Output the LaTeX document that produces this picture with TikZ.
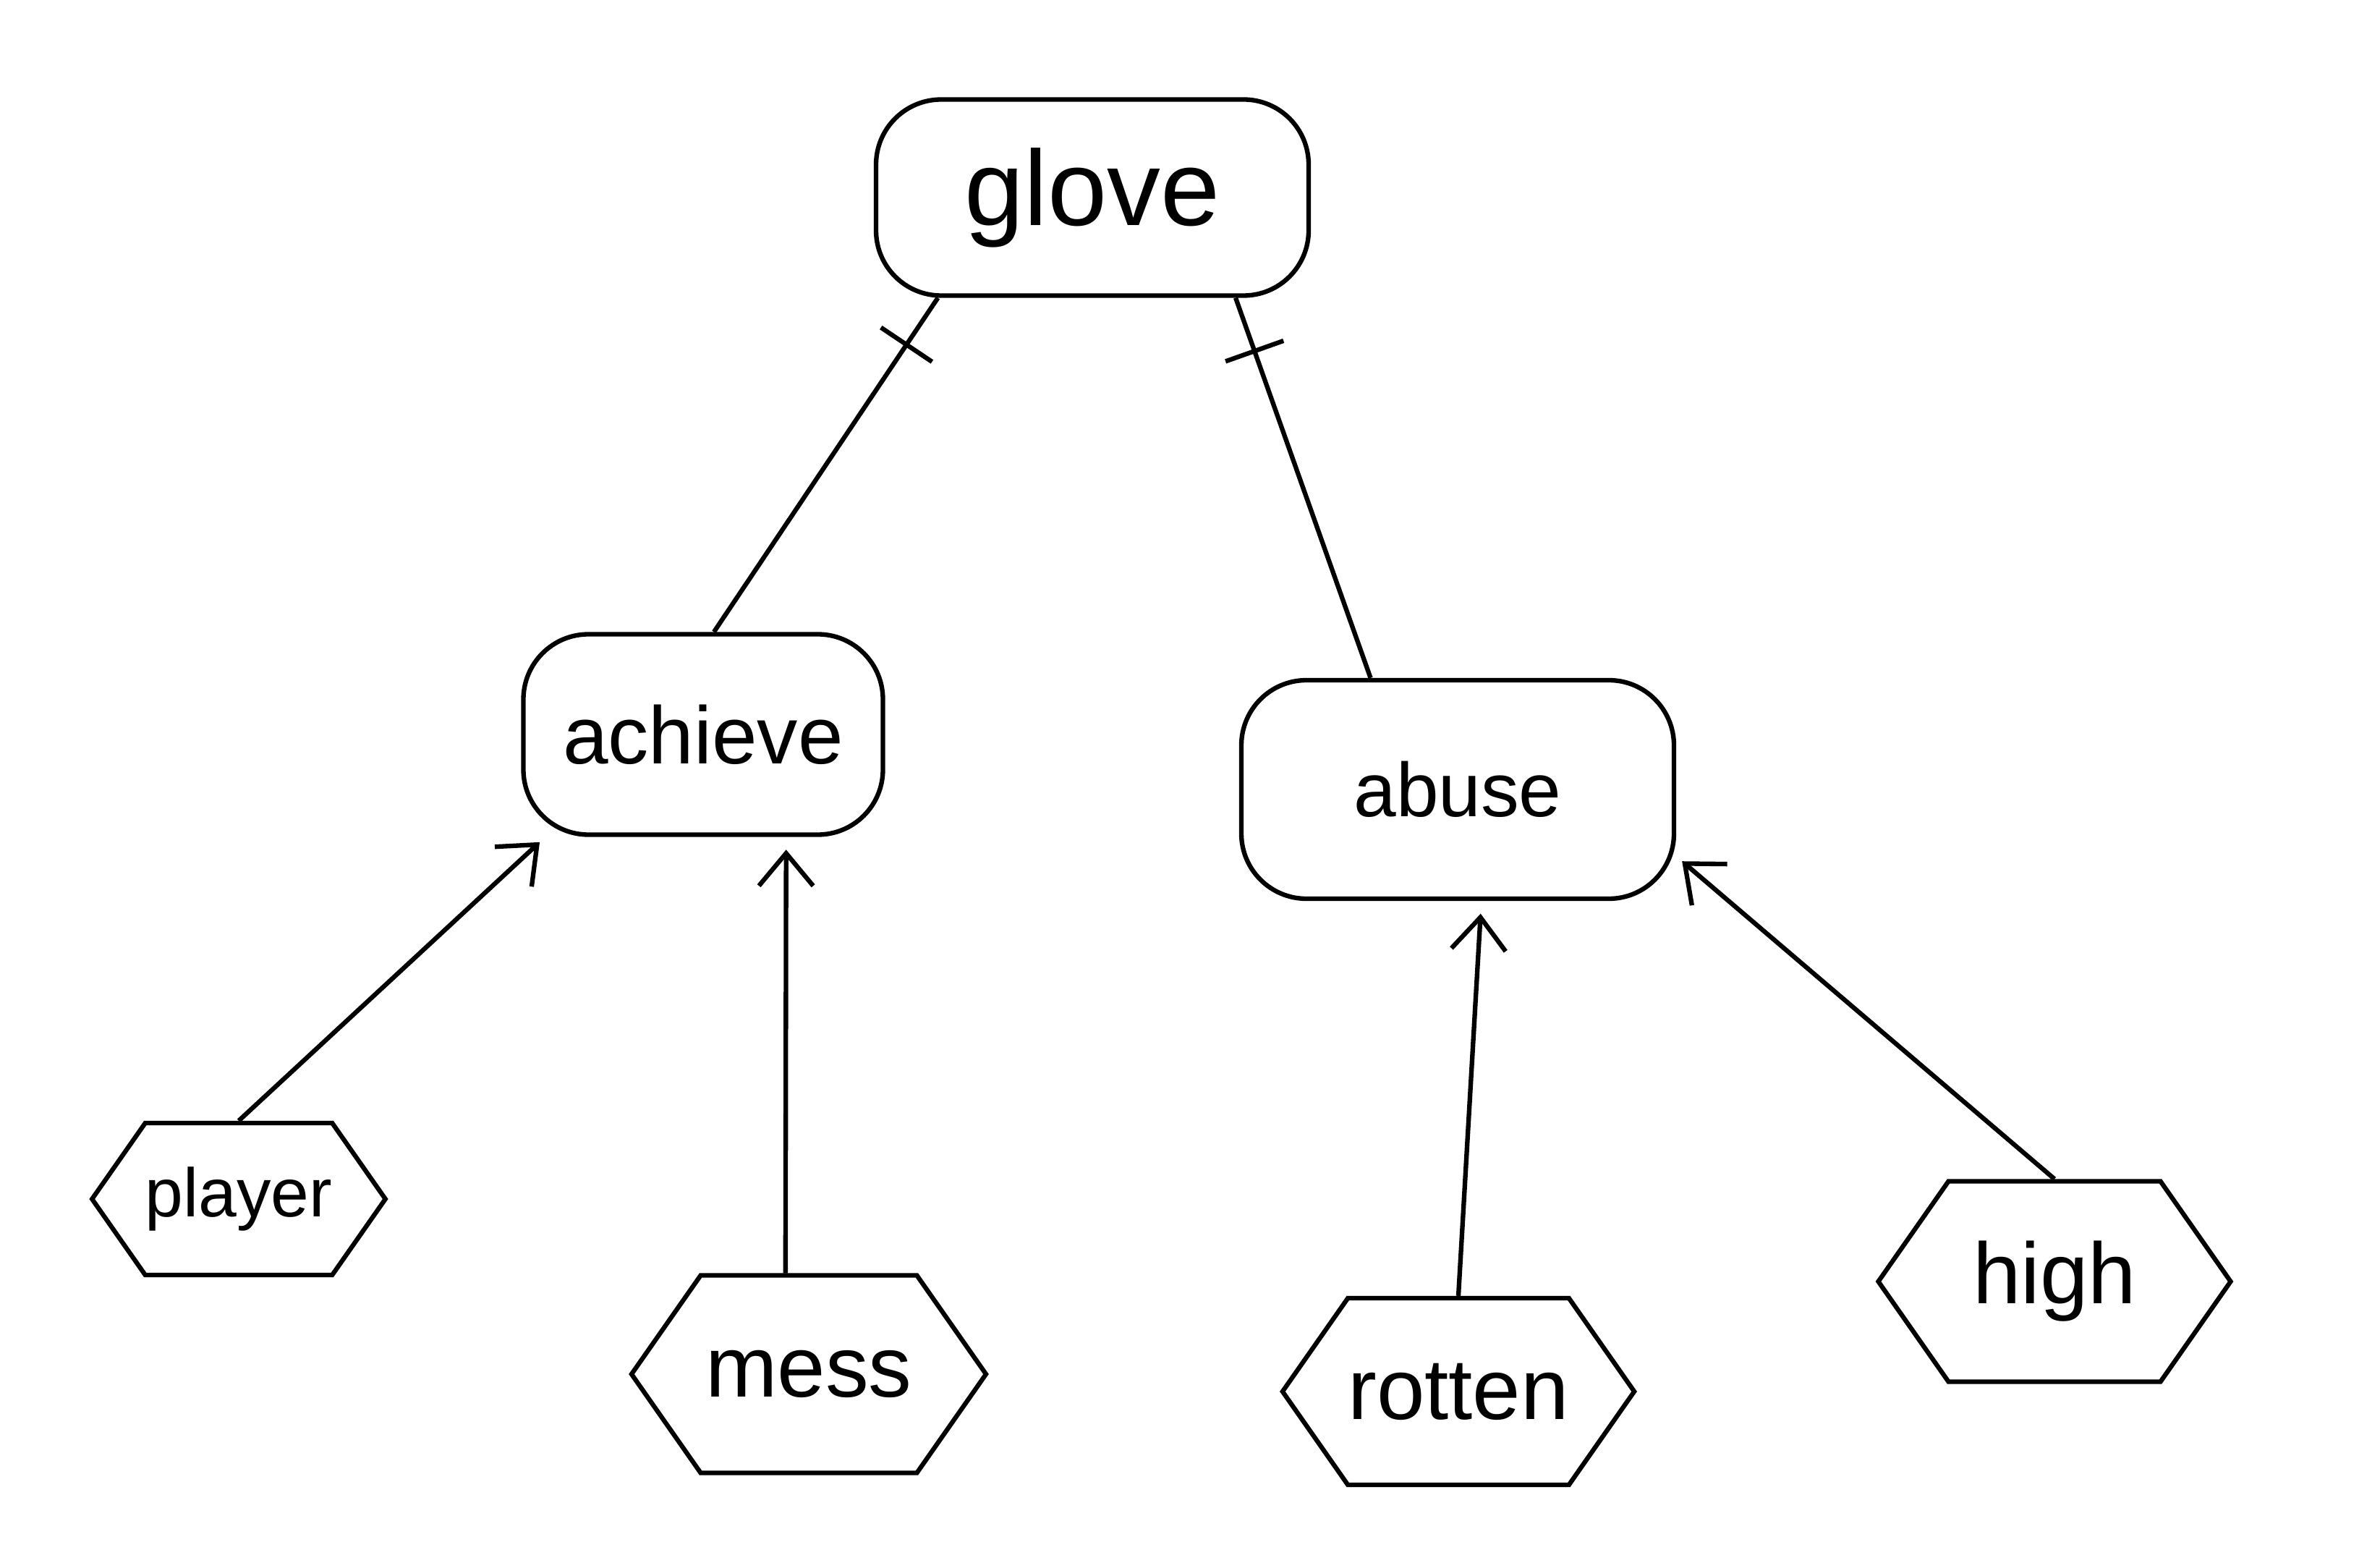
\documentclass[tikz,border=0pt]{standalone}
\usepackage{fontspec}
\setmainfont{Liberation Sans}
\usetikzlibrary{shapes.symbols,arrows.meta}

\tikzset{
  wordbox/.style={draw, rounded corners=0.9cm, inner sep=0pt},
  leafbox/.style={draw, signal, signal to=west and east, signal pointer angle=110, inner sep=0pt},
  tick/.style={draw, sloped, minimum width=0pt, minimum height=0.85cm, inner sep=0pt},
}

\begin{document}
\begin{tikzpicture}[line width=1.8pt, >={Straight Barb[length=0.45cm, width=0.75cm]}]
      \useasboundingbox (0,0) rectangle (32.9,-21.6);

      \node[wordbox, minimum width=5.98cm, minimum height=2.71cm, font=\fontsize{42}{50}\selectfont] (glove) at (15.10,-2.73) {glove};
      \node[wordbox, minimum width=4.97cm, minimum height=2.77cm, font=\fontsize{32}{38}\selectfont] (achieve) at (9.72,-10.15) {achieve};
      \node[wordbox, minimum width=5.98cm, minimum height=3.02cm, font=\fontsize{30}{36}\selectfont] (abuse) at (20.15,-10.91) {abuse};

      \node[leafbox, minimum width=4.0cm, minimum height=2.1cm, font=\fontsize{27}{32}\selectfont] (player) at (3.30,-16.57) {player};
      \node[leafbox, minimum width=4.9cm, minimum height=2.73cm, font=\fontsize{34}{40}\selectfont] (mess) at (11.18,-18.99) {mess};
      \node[leafbox, minimum width=4.66cm, minimum height=2.58cm, font=\fontsize{34}{40}\selectfont] (rotten) at (20.16,-19.23) {rotten};
      \node[leafbox, minimum width=4.87cm, minimum height=2.77cm, font=\fontsize{34}{40}\selectfont] (high) at (28.40,-17.71) {high};

      \path (achieve.84) edge node[tick, pos=0.86] {} (glove.213);
      \path (abuse.128) edge node[tick, pos=0.86] {} (glove.-35);

      \path[->, shorten >=3pt] (player.north) edge (achieve.213);
      \path[->, shorten >=5pt] (mess.103) edge (achieve.-51);
      \path[->, shorten >=5pt] (rotten.north) edge (abuse.-78);
      \path[->, shorten >=3pt] (high.north) edge (abuse.-17);
    \end{tikzpicture}
\end{document}
